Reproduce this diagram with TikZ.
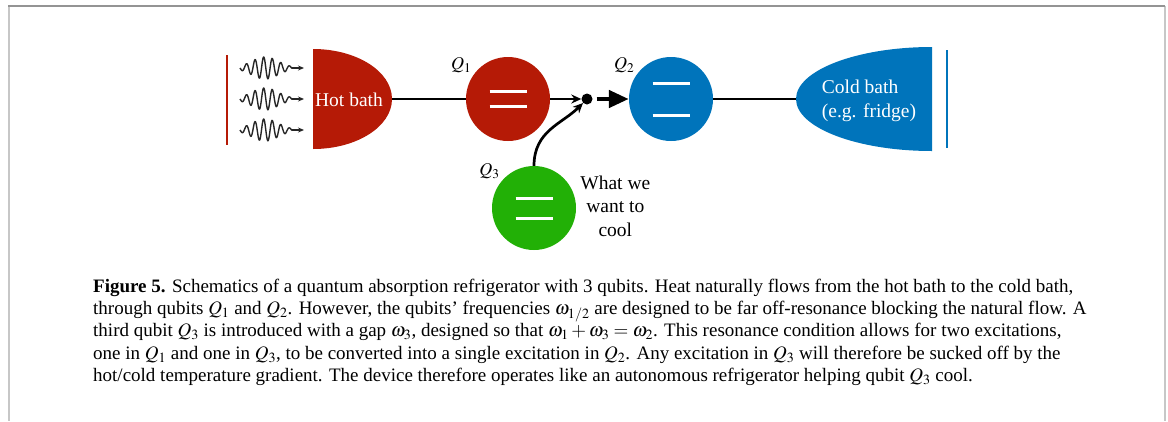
\documentclass[tikz,border=0pt]{standalone}
\usepackage{mathptmx}
\usepackage[no-math]{fontspec}
\setmainfont{Liberation Serif}
\usetikzlibrary{positioning, arrows.meta, calc}

\definecolor{hotred}{RGB}{181,26,6}
\definecolor{coldblue}{RGB}{0,116,187}
\definecolor{qgreen}{RGB}{34,176,6}

\begin{document}
\begin{tikzpicture}[
        x=1pt, y=-1pt,
        >={Stealth[length=10pt, width=9pt]},
        % Styles
        qubit/.style={circle, minimum size=84pt, inner sep=0pt},
        qlab/.style={font=\fontsize{18}{18}\selectfont, inner sep=2pt},
        bathtext/.style={text=white, font=\fontsize{19.5}{24}\selectfont, inner sep=0pt},
        sidetext/.style={align=center, font=\fontsize{19.5}{23.5}\selectfont, inner sep=0pt},
        level/.style={white, line width=3pt},
        link/.style={line width=2.7pt},
        wave/.style={line width=1.4pt, black!85},
        wall/.style={line width=1.2pt},
        caption/.style={align=left, font=\fontsize{19}{22.2}\selectfont, inner sep=0pt},
        frame/.style={line width=2pt, black!22}, ]

        \useasboundingbox (0,0) rectangle (1168,421);

        % === FRAME ===
        \draw[frame] (8.5,6) -- (8.5,421);
        \draw[frame] (1165,6) -- (1165,421);
        \draw[line width=1.2pt, black!42] (8,6) -- (1165,6);

        % === HOT BATH ===
        \draw[wall, hotred] (227,55) -- (227,145);
        \foreach \wy in {68,99,130} {
            \draw[wave] plot[domain=0:52, samples=160, smooth]
                ({240+\x}, {\wy + 11*exp(-((\x-25)/19)^2)*sin(\x/8.6*360)});
            \draw[wave, -{Stealth[length=6pt, width=5pt]}] (292,\wy) -- (304,\wy);
        }
        \fill[hotred] (313,149) arc[start angle=90, end angle=-90, x radius=79, y radius=50] -- cycle;
        \coordinate (hotedge) at (392,99);
        \node[bathtext] (hot) at (349,100) {Hot bath};

        % === QUBITS ===
        \node[qubit, fill=hotred, label={[qlab]145:$Q_1$}] (q1) at (508,99) {};
        \node[circle, fill=black, minimum size=11pt, inner sep=0pt] (junc) at (587,99) {};
        \node[qubit, fill=coldblue, label={[qlab]145:$Q_2$}] (q2) at (671,99) {};
        \node[qubit, fill=qgreen, label={[qlab]140:$Q_3$}] (q3) at (534,208) {};
        \node[sidetext, right=4pt of q3, yshift=2pt] (cool) {What we\\want to\\cool};

        % energy levels
        \foreach \q/\g in {q1/7.5, q2/16, q3/10} {
            \draw[level] ($(\q)+(-18.5,-\g)$) -- ++(37,0);
            \draw[level] ($(\q)+(-18.5,\g)$) -- ++(37,0);
        }

        % === COLD BATH ===
        \fill[coldblue] (932,151) arc[start angle=90, end angle=270, x radius=136, y radius=52] -- cycle;
        \coordinate (coldedge) at (796,99);
        \node[bathtext, align=left] (cold) at (869,101) {Cold bath\\(e.g. fridge)};
        \draw[wall, coldblue] (947,50) -- (947,148);

        % Connections
        \draw[link] (hotedge) -- (q1);
        \draw[link, ->] (q1) -- (junc);
        \draw[link, ->] (q3.north) .. controls +(0,-35) and +(-25,25) .. (junc);
        \draw[line width=4.5pt, -{Triangle[length=20pt, width=17pt]}, shorten <=4pt] (junc) -- (q2);
        \draw[link] (q2) -- (coldedge);

        % === CAPTION ===
        \node[caption, anchor=north west] (cap) at (93,279) {%
            \textbf{Figure 5.} Schematics of a quantum absorption refrigerator with 3 qubits. Heat naturally flows from the hot bath to the cold bath,\\
            through qubits $Q_1$ and $Q_2$. However, the qubits’ frequencies $\omega_{1/2}$ are designed to be far off-resonance blocking the natural flow. A\\
            third qubit $Q_3$ is introduced with a gap $\omega_3$, designed so that $\omega_1+\omega_3=\omega_2$. This resonance condition allows for two excitations,\\
            one in $Q_1$ and one in $Q_3$, to be converted into a single excitation in $Q_2$. Any excitation in $Q_3$ will therefore be sucked off by the\\
            hot/cold temperature gradient. The device therefore operates like an autonomous refrigerator helping qubit $Q_3$ cool.};

    \end{tikzpicture}
\end{document}
